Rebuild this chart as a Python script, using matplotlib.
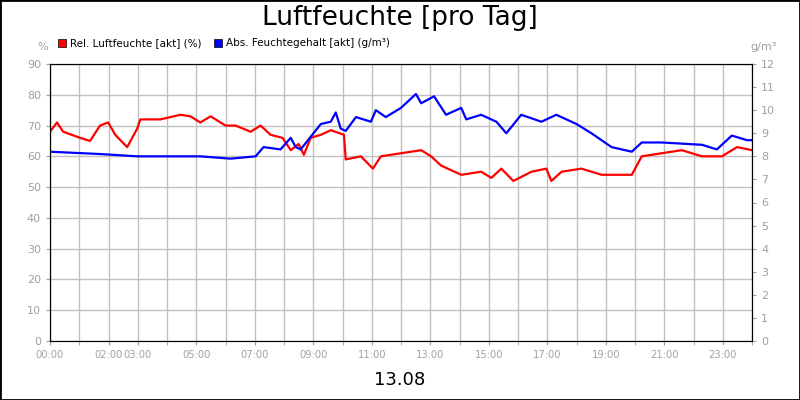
import matplotlib
matplotlib.use("Agg")
from matplotlib import pyplot as plt
from matplotlib.patches import Rectangle

# Zeit in Stunden
t_rel = [0.0, 0.24, 0.45, 1.03, 1.37, 1.71, 1.99, 2.23, 2.64, 2.98, 3.09, 3.77, 4.46, 4.80,
         5.14, 5.49, 6.00, 6.34, 6.86, 7.20, 7.54, 7.95, 8.23, 8.50, 8.68, 8.91, 9.26, 9.60,
         10.05, 10.11, 10.63, 11.04, 11.31, 12.00, 12.69, 13.03, 13.37, 14.06, 14.74, 15.09,
         15.43, 15.84, 16.46, 16.97, 17.14, 17.49, 18.17, 18.86, 19.54, 19.89, 20.23, 20.91,
         21.60, 22.29, 22.97, 23.49, 24.0]
rel = [68, 71, 68, 66, 65, 70, 71, 67, 63, 69, 72, 72, 73.5, 73, 71, 73, 70, 70, 68, 70,
       67, 66, 62, 64, 60.5, 66, 67, 68.5, 67, 59, 60, 56, 60, 61, 62, 60, 57, 54, 55, 53,
       56, 52, 55, 56, 52, 55, 56, 54, 54, 54, 60, 61, 62, 60, 60, 63, 62]

t_abs = [0.0, 1.71, 2.98, 5.14, 6.17, 7.03, 7.30, 7.88, 8.23, 8.40, 8.57, 9.26, 9.60, 9.77,
         9.94, 10.11, 10.46, 10.97, 11.14, 11.48, 12.00, 12.51, 12.69, 13.13, 13.54, 14.06,
         14.23, 14.74, 15.26, 15.60, 16.11, 16.80, 17.31, 18.00, 18.51, 19.20, 19.89, 20.23,
         20.91, 22.29, 22.80, 23.31, 23.83, 24.0]
abs_f = [8.2, 8.1, 8.0, 8.0, 7.9, 8.0, 8.4, 8.3, 8.8, 8.4, 8.3, 9.4, 9.5, 9.9, 9.2, 9.1,
         9.7, 9.5, 10.0, 9.7, 10.1, 10.7, 10.3, 10.6, 9.8, 10.1, 9.6, 9.8, 9.5, 9.0, 9.8,
         9.5, 9.8, 9.4, 9.0, 8.4, 8.2, 8.6, 8.6, 8.5, 8.3, 8.9, 8.7, 8.7]

tick_hours = [0, 2, 3, 5, 7, 9, 11, 13, 15, 17, 19, 21, 23]
tick_labels = [f"{h:02d}:00" for h in tick_hours]

fig = plt.figure(figsize=(8, 4), dpi=100)
fig.patches.append(Rectangle((0, 0), 1, 1, transform=fig.transFigure, fill=False,
                             edgecolor="black", linewidth=2))
ax = fig.add_axes([0.0625, 0.1475, 0.8775, 0.6925])
ax2 = ax.twinx()

ax.plot(t_rel, rel, color="#ff0000", linewidth=1.6)
ax2.plot(t_abs, abs_f, color="#0000ff", linewidth=1.6)

ax.set_xlim(0, 24)
ax.set_ylim(0, 90)
ax2.set_ylim(0, 12)
ax.set_yticks(range(0, 91, 10))
ax2.set_yticks(range(0, 13))
ax.set_xticks(tick_hours)
ax.set_xticklabels(tick_labels, fontstretch="condensed")
ax.set_xticks(range(0, 25), minor=True)
ax.grid(True, which="both", axis="x", color="#c0c0c0", linewidth=1)
ax.grid(True, axis="y", color="#c0c0c0", linewidth=1)
for a in (ax, ax2):
    a.tick_params(colors="#a0a0a0", labelsize=8, length=3)
    a.tick_params(which="minor", length=3, colors="#a0a0a0")
    for s in a.spines.values():
        s.set_color("black")

fig.text(0.5, 0.955, "Luftfeuchte [pro Tag]", ha="center", va="center", fontsize=19)
fig.text(0.5, 0.05, "13.08", ha="center", va="center", fontsize=13)
fig.text(0.053, 0.882, "%", ha="center", va="center", fontsize=8, color="#a0a0a0")
fig.text(0.955, 0.882, "g/m³", ha="center", va="center", fontsize=8, color="#a0a0a0")

fig.patches.append(Rectangle((0.073, 0.882), 0.01, 0.02, transform=fig.transFigure,
                             facecolor="#ff0000", edgecolor="black", linewidth=0.5))
fig.text(0.088, 0.892, "Rel. Luftfeuchte [akt] (%)", va="center", fontsize=7.5)
fig.patches.append(Rectangle((0.268, 0.882), 0.01, 0.02, transform=fig.transFigure,
                             facecolor="#0000ff", edgecolor="black", linewidth=0.5))
fig.text(0.283, 0.892, "Abs. Feuchtegehalt [akt] (g/m³)", va="center", fontsize=7.5)

fig.savefig("out.png")
